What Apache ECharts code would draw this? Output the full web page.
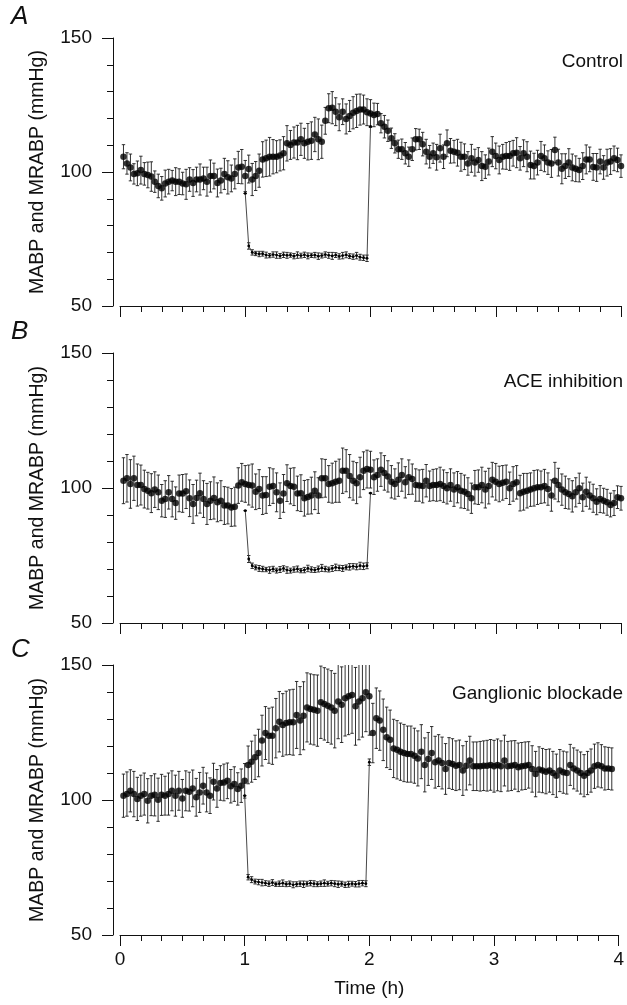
<!DOCTYPE html>
<html>
<head>
<meta charset="utf-8">
<script src="https://cdn.jsdelivr.net/npm/echarts@6/dist/echarts.min.js"></script>
<style>
html,body{margin:0;padding:0;background:#fff;}
#chart{width:627px;height:1005px;}
</style>
</head>
<body>
<div id="chart"></div>
<script>
// Sampling: one point every 1/36 h
const STEP_H = 1 / 36;

// ---------- Panel A (Control) ----------
const mabpA = [
  105.7,103.2,101.7,99.3,99.5,100.7,99.3,98.9,98.3,96.4,
  94.8,93.9,95.7,96.4,96.8,96.4,96.4,95.7,95.4,97.2,
  95.9,97.2,97.2,97.6,96.4,98.5,98.5,95.9,96.8,99.3,
  98.0,97.6,99.3,101.7,102.0,98.5,101.1,97.2,98.5,100.5,
  104.7,105.1,105.7,105.7,105.7,106.2,107.0,110.7,110.1,111.0,
  111.0,112.2,110.7,111.3,111.7,114.0,112.2,111.3,119.1,123.8,
  124.0,122.5,120.4,122.5,119.8,120.9,122.1,122.8,123.3,123.3,
  122.3,121.8,121.3,121.6,118.2,116.9,115.4,112.6,110.7,108.5,
  108.5,107.0,105.7,108.5,112.2,112.2,110.4,107.6,105.7,107.0,
  105.5,108.9,105.7,110.7,107.9,107.6,107.2,105.7,105.7,103.2,
  105.1,103.5,104.5,102.2,102.0,103.9,107.6,106.0,104.5,105.7,
  106.0,106.0,107.0,107.2,105.1,107.0,105.7,102.6,102.2,103.5,
  106.0,105.1,103.5,103.2,108.2,103.5,101.2,102.2,103.5,101.7,
  101.2,100.7,102.2,104.7,104.7,101.9,101.7,103.9,101.7,103.5,
  103.9,105.1,104.5,102.2
];
const errA = [
  4.5,4.0,5.0,3.8,4.6,5.2,4.2,4.8,5.5,4.0,
  4.4,4.4,5.0,4.6,3.8,5.2,4.8,4.2,5.6,4.4,
  5.0,4.6,5.8,4.2,5.4,6.0,4.8,5.2,4.6,5.8,
  6.2,5.0,5.6,6.0,6.4,5.8,5.2,6.0,5.4,6.2,
  6.6,6.8,7.2,6.4,6.0,5.8,6.2,6.6,5.4,5.8,
  6.4,6.0,5.6,6.8,7.0,6.4,7.6,6.2,5.0,5.4,
  6.0,5.2,5.0,4.8,5.6,5.8,6.0,6.2,5.8,5.4,
  5.0,5.2,4.4,4.0,3.6,4.2,4.0,3.8,3.6,3.4,
  3.8,4.0,3.6,4.2,4.0,3.8,4.4,4.6,4.2,3.8,
  4.8,5.2,4.4,5.0,4.6,4.2,5.0,5.4,4.8,4.4,
  5.2,5.0,4.6,5.4,4.4,5.0,5.6,4.8,5.2,4.6,
  5.0,5.4,4.8,5.6,4.4,5.0,5.6,5.2,4.8,4.6,
  5.4,5.0,4.4,5.2,4.8,5.0,5.6,4.6,5.2,5.0,
  4.8,4.4,5.0,5.4,4.6,5.0,5.2,4.6,4.4,5.0,
  4.8,4.6,4.4,4.2
];
// MRABP from 1 h to 2 h (same time grid, starting at index 36)
const mrabpA = [
  92.0,72.4,70.0,69.6,69.4,69.5,69.0,68.8,69.2,69.0,
  68.7,69.1,68.9,69.0,68.6,69.0,68.8,69.1,68.7,68.9,
  69.0,68.6,68.8,69.2,68.9,68.7,69.0,68.5,68.8,69.1,
  68.6,68.4,68.8,68.2,68.0,67.8,117.0
];
const mrErrA = [
  0.0,1.2,1.0,0.8,1.0,0.9,1.1,0.8,1.0,1.2,
  0.9,1.0,1.1,0.8,1.0,1.2,0.9,1.0,1.1,0.8,
  1.0,1.2,0.9,1.0,1.1,1.3,0.9,1.0,1.2,1.1,
  0.9,1.0,1.2,1.1,1.0,1.2,0.0
];

// ---------- Panel B (ACE inhibition) ----------
const mabpB = [
  102.7,103.6,101.5,103.6,101.1,101.1,99.6,99.0,98.1,99.4,
  98.4,95.3,95.9,98.4,95.9,94.4,98.0,98.0,98.8,96.2,
  94.1,96.3,98.1,95.9,94.1,95.3,96.3,94.7,95.3,93.5,
  93.5,92.8,93.1,100.9,102.1,101.5,101.1,100.9,98.6,99.6,
  97.2,97.4,100.5,100.7,98.4,95.3,98.0,101.8,100.7,100.5,
  98.0,98.1,96.2,96.7,97.2,99.0,97.2,103.6,103.6,101.5,
  101.8,102.3,102.7,106.4,106.4,104.4,102.7,101.8,104.0,106.4,
  107.0,106.8,104.0,104.8,106.8,105.6,104.3,102.3,101.5,103.1,
  104.8,102.1,104.0,103.3,101.1,100.9,100.7,102.7,100.7,101.1,
  101.1,101.5,100.7,99.9,101.1,99.4,100.3,99.0,98.6,97.8,
  96.2,100.3,100.3,101.1,99.4,100.7,103.1,102.3,101.5,101.9,
  102.3,99.9,101.5,102.1,98.1,98.6,99.0,99.4,99.9,100.3,
  100.3,100.7,99.6,97.2,102.7,101.1,99.4,98.4,97.8,96.9,
  98.4,99.9,96.6,98.6,97.2,96.2,94.9,95.9,95.3,94.7,
  93.7,94.4,96.6,96.2
];
const errB = [
  8.5,8.8,9.0,8.2,7.8,7.4,7.0,6.8,7.2,6.6,
  6.4,6.0,6.8,6.2,6.6,6.0,6.8,7.0,6.4,6.8,
  7.2,6.6,7.4,6.8,7.6,7.0,7.8,7.2,7.4,7.0,
  6.8,7.0,7.2,6.6,7.0,6.8,7.4,8.0,6.6,7.2,
  7.0,6.8,7.0,6.4,7.2,6.6,7.0,6.8,6.6,7.0,
  6.4,6.8,6.6,6.4,6.8,7.0,6.6,7.2,7.0,6.8,
  7.4,7.6,8.0,8.4,7.8,8.0,7.2,7.6,7.4,7.0,
  7.0,6.8,6.4,6.0,6.2,6.4,5.8,6.0,5.6,6.2,
  6.0,5.8,6.4,5.6,6.0,5.8,6.2,6.0,5.6,5.8,
  6.0,6.2,6.0,5.8,6.0,6.2,5.8,6.4,6.2,6.0,
  5.6,6.2,6.4,6.6,6.8,6.6,6.4,6.8,6.6,6.4,
  6.2,6.0,6.4,6.2,6.6,6.8,6.4,6.2,6.6,6.4,
  6.0,6.2,6.0,5.8,6.8,6.2,5.8,6.0,5.6,5.8,
  5.4,5.6,5.2,5.4,5.0,5.2,4.8,5.0,4.6,4.8,
  4.4,4.6,4.2,4.4
];
const mrabpB = [
  91.6,73.7,71.2,70.6,70.2,70.0,69.8,69.6,70.0,69.4,
  69.8,70.2,69.6,69.4,69.8,70.0,69.4,69.6,70.2,69.8,
  69.6,70.0,70.4,70.0,69.8,70.2,70.6,70.4,70.2,70.6,
  70.8,71.0,70.8,71.2,71.0,71.2,98.1
];
const mrErrB = [
  0.0,1.3,1.0,0.9,1.1,1.0,0.8,1.2,1.0,0.9,
  1.1,1.0,1.2,0.9,1.0,1.1,0.8,1.0,1.2,1.0,
  0.9,1.1,1.3,1.0,0.9,1.1,1.2,1.0,1.1,0.9,
  1.2,1.0,1.1,1.3,1.2,1.1,0.0
];

// ---------- Panel C (Ganglionic blockade) ----------
const mabpC = [
  101.6,102.2,103.4,102.2,100.4,101.6,102.2,99.7,101.6,101.9,
  100.1,101.9,101.6,102.2,103.4,101.6,103.4,100.6,103.4,103.1,
  104.3,101.0,102.8,105.3,102.8,101.6,106.8,104.3,106.3,106.5,
  107.1,105.1,105.9,104.1,105.3,107.1,113.0,114.2,115.8,117.4,
  122.0,124.8,123.8,123.8,126.6,129.0,127.8,128.5,128.8,128.8,
  131.5,129.4,131.2,134.3,133.7,133.4,133.1,136.2,135.6,134.9,
  134.3,133.1,136.5,135.3,137.7,138.4,138.9,134.7,136.5,137.7,
  139.9,138.4,124.8,130.3,129.4,126.0,123.2,122.3,119.1,118.6,
  117.9,117.4,117.0,117.0,116.4,115.4,117.9,113.0,115.2,117.4,
  114.0,114.6,113.7,111.5,113.7,113.3,112.7,113.0,110.9,112.7,
  114.6,112.5,112.5,112.5,112.7,112.7,113.0,112.5,113.0,112.5,
  114.6,112.5,112.7,113.0,112.1,112.5,112.7,113.0,111.5,109.6,
  111.3,110.9,110.5,110.9,110.0,109.0,110.9,110.3,110.0,113.0,
  111.7,110.9,110.0,109.0,110.0,110.9,112.5,113.0,112.5,111.7,
  111.7,111.5
];
const errC = [
  8.0,8.2,7.8,8.4,8.0,7.6,7.8,8.2,7.4,7.8,
  8.0,7.6,7.2,7.8,7.4,7.6,7.2,7.0,7.4,7.2,
  6.8,7.0,7.4,6.8,7.2,6.6,6.8,7.0,6.4,6.8,
  6.6,6.2,6.4,6.0,6.2,6.4,7.0,7.6,8.2,8.8,
  9.4,9.8,10.2,10.6,11.0,11.2,11.6,11.8,12.0,12.2,
  12.4,12.6,12.6,12.8,13.0,13.0,13.2,13.4,13.4,13.6,
  13.6,13.8,13.8,14.0,14.0,14.2,14.2,14.4,14.2,14.4,
  14.6,14.4,11.0,11.2,11.0,11.4,11.2,11.0,10.8,10.8,
  10.6,10.6,10.4,10.4,10.2,10.2,10.0,10.0,9.8,9.8,
  9.6,9.6,9.6,9.4,9.4,9.4,9.2,9.2,9.2,9.0,
  9.0,9.0,9.0,9.2,9.2,9.4,9.4,9.6,9.6,9.4,
  9.4,9.2,9.2,9.0,9.0,8.8,8.8,8.6,8.6,8.4,
  8.4,8.2,8.2,8.0,8.0,8.0,7.8,7.8,7.8,7.6,
  7.6,7.6,7.8,7.8,8.0,8.0,8.2,8.2,8.0,8.0,
  7.8,7.8
];
const mrabpC = [
  101.6,71.4,70.5,69.8,69.6,69.4,69.2,69.0,69.4,68.8,
  69.0,69.2,68.8,69.0,68.6,68.8,69.0,68.8,69.0,69.2,
  69.0,68.8,69.0,69.2,69.0,69.2,69.0,68.8,69.0,68.6,
  68.8,69.0,68.8,69.0,69.2,69.0,114.0
];
const mrErrC = [
  0.0,1.0,1.1,0.9,1.0,1.2,0.9,1.0,1.1,0.8,
  1.0,1.2,0.9,1.0,1.1,0.9,1.0,1.2,0.9,1.0,
  1.1,0.9,1.0,1.2,0.9,1.0,1.1,1.2,0.9,1.0,
  1.1,0.9,1.0,1.2,1.0,1.1,1.2
];

// ---------- Labels ----------
const panelLetters = ['A', 'B', 'C'];
const panelTitles = ['Control', 'ACE inhibition', 'Ganglionic blockade'];
const yAxisName = 'MABP and MRABP (mmHg)';
const xAxisName = 'Time (h)';
const MRABP_START_INDEX = 36;

const FONT = "'Liberation Sans', Arial, Helvetica, sans-serif";
const INK = '#111111';

const panels = [
  { mabp: mabpA, err: errA, mr: mrabpA, mrErr: mrErrA, top: 38, height: 268, letterY: 18, titleY: 62 },
  { mabp: mabpB, err: errB, mr: mrabpB, mrErr: mrErrB, top: 353, height: 270, letterY: 333, titleY: 382 },
  { mabp: mabpC, err: errC, mr: mrabpC, mrErr: mrErrC, top: 665, height: 270, letterY: 651, titleY: 694 }
];

function errRender(params, api) {
  const x = api.value(0), lo = api.value(1), hi = api.value(2);
  const pTop = api.coord([x, hi]);
  const pBot = api.coord([x, lo]);
  const cs = params.coordSys;
  const yMin = cs.y, yMax = cs.y + cs.height;
  const y1 = Math.max(pTop[1], yMin);
  const y2 = Math.min(pBot[1], yMax);
  const hw = 1.7;
  const st = { stroke: '#1c1c1c', lineWidth: 0.9 };
  const children = [
    { type: 'line', shape: { x1: pTop[0], y1: y1, x2: pTop[0], y2: y2 }, style: st }
  ];
  if (pTop[1] >= yMin) children.push({ type: 'line', shape: { x1: pTop[0] - hw, y1: pTop[1], x2: pTop[0] + hw, y2: pTop[1] }, style: st });
  if (pBot[1] <= yMax) children.push({ type: 'line', shape: { x1: pBot[0] - hw, y1: pBot[1], x2: pBot[0] + hw, y2: pBot[1] }, style: st });
  return { type: 'group', children: children };
}

const grid = [], xAxis = [], yAxis = [], series = [], graphic = [];

panels.forEach((p, k) => {
  grid.push({ left: 120, right: 6, top: p.top, height: p.height });
  const isLast = k === panels.length - 1;
  xAxis.push({
    gridIndex: k, type: 'value', min: 0, max: 4, interval: 1,
    axisLine: { show: true, onZero: false, lineStyle: { color: INK, width: 1 } },
    axisTick: { show: true, inside: false, length: 11, lineStyle: { color: INK, width: 1 } },
    minorTick: { show: true, splitNumber: 6, length: 6, lineStyle: { color: INK, width: 1 } },
    splitLine: { show: false },
    axisLabel: { show: isLast, margin: 15, fontFamily: FONT, fontSize: 19, color: INK },
    name: isLast ? xAxisName : '', nameLocation: 'middle', nameGap: 44,
    nameTextStyle: { fontFamily: FONT, fontSize: 19, color: INK }
  });
  yAxis.push({
    gridIndex: k, type: 'value', min: 50, max: 150, interval: 50, offset: 7,
    axisLine: { show: true, onZero: false, lineStyle: { color: INK, width: 1 } },
    axisTick: { show: true, inside: false, length: 11, lineStyle: { color: INK, width: 1 } },
    minorTick: { show: true, splitNumber: 5, length: 6, lineStyle: { color: INK, width: 1 } },
    splitLine: { show: false },
    axisLabel: { show: true, margin: 21, fontFamily: FONT, fontSize: 19, color: INK },
    name: yAxisName, nameLocation: 'middle', nameGap: 65,
    nameTextStyle: { fontFamily: FONT, fontSize: 19.5, color: INK }
  });

  const mabpData = p.mabp.map((v, i) => [(i + 1) * STEP_H, v]);
  const mabpErr = p.mabp.map((v, i) => [(i + 1) * STEP_H, v - p.err[i], v + p.err[i]]);
  const mrData = p.mr.map((v, j) => [(MRABP_START_INDEX + j) * STEP_H, v]);
  const mrErr = p.mr.map((v, j) => [(MRABP_START_INDEX + j) * STEP_H, v - p.mrErr[j], v + p.mrErr[j]]);

  series.push({
    type: 'custom', xAxisIndex: k, yAxisIndex: k, renderItem: errRender,
    data: mabpErr, encode: { x: 0, y: [1, 2] }, silent: true, z: 2
  });
  series.push({
    type: 'custom', xAxisIndex: k, yAxisIndex: k, renderItem: errRender,
    data: mrErr, encode: { x: 0, y: [1, 2] }, silent: true, z: 2
  });
  series.push({
    type: 'line', xAxisIndex: k, yAxisIndex: k, data: mrData,
    symbol: 'circle', symbolSize: 2.8, showSymbol: true,
    lineStyle: { color: '#333', width: 0.9 }, itemStyle: { color: '#000' },
    silent: true, animation: false, z: 3
  });
  series.push({
    type: 'scatter', xAxisIndex: k, yAxisIndex: k, data: mabpData,
    symbol: 'circle', symbolSize: 6.5, itemStyle: { color: '#000' },
    silent: true, animation: false, z: 4
  });

  graphic.push({
    type: 'text', left: 11, top: p.letterY - 14,
    style: { text: panelLetters[k], fontFamily: FONT, fontSize: 26, fontStyle: 'italic', fill: INK }
  });
  graphic.push({
    type: 'text', right: 4, top: p.titleY - 10,
    style: { text: panelTitles[k], fontFamily: FONT, fontSize: 19, fill: INK }
  });
});

const chart = echarts.init(document.getElementById('chart'), null, { renderer: 'canvas' });
chart.setOption({
  animation: false,
  backgroundColor: '#ffffff',
  grid: grid, xAxis: xAxis, yAxis: yAxis, series: series, graphic: graphic
});
</script>
</body>
</html>
